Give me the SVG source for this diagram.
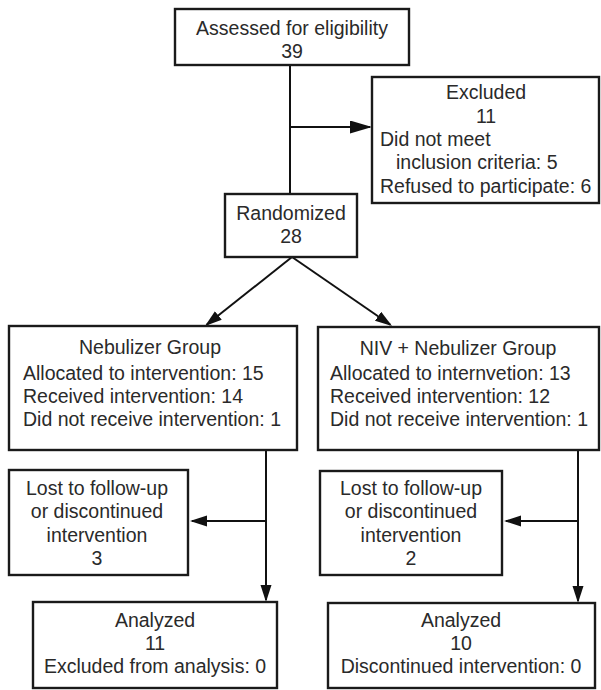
<svg xmlns="http://www.w3.org/2000/svg" width="601" height="690" viewBox="0 0 601 690">
<defs>
<style>
.box{fill:#fff;stroke:#1a1a1a;stroke-width:2.4}
.ln{fill:none;stroke:#111;stroke-width:2}
text{font-family:"Liberation Sans",Arial,sans-serif;font-size:19.5px;fill:#2a2a2a}
.c{text-anchor:middle}
</style>
<marker id="ah" markerUnits="userSpaceOnUse" markerWidth="18" markerHeight="12" refX="15" refY="5.5" orient="auto">
<path d="M0,0 L17,5.5 L0,11 z" fill="#111"/>
</marker>
<marker id="ahb" markerUnits="userSpaceOnUse" markerWidth="24" markerHeight="14" refX="20" refY="6.5" orient="auto">
<path d="M0,0 L22,6.5 L0,13 z" fill="#111"/>
</marker>
</defs>
<rect width="601" height="690" fill="#fff"/>
<g id="connectors">
<line class="ln" x1="290" y1="65" x2="290" y2="194"/>
<line class="ln" x1="290" y1="127" x2="370" y2="127" marker-end="url(#ahb)"/>
<line class="ln" x1="292" y1="257" x2="206.6" y2="324.8" marker-end="url(#ah)"/>
<line class="ln" x1="292" y1="257" x2="390.4" y2="324.8" marker-end="url(#ah)"/>
<line class="ln" x1="266" y1="450" x2="266" y2="600" marker-end="url(#ah)"/>
<line class="ln" x1="266" y1="521" x2="192" y2="521" marker-end="url(#ah)"/>
<line class="ln" x1="578" y1="450" x2="578" y2="601" marker-end="url(#ah)"/>
<line class="ln" x1="578" y1="521" x2="506" y2="521" marker-end="url(#ah)"/>
</g>
<g id="assessed">
<rect class="box" x="175" y="9" width="234" height="56"/>
<text class="c" x="292" y="35">Assessed for eligibility</text>
<text class="c" x="292" y="58">39</text>
</g>
<g id="excluded">
<rect class="box" x="372" y="77" width="227" height="126"/>
<text class="c" x="486" y="99">Excluded</text>
<text class="c" x="486" y="123">11</text>
<text x="380" y="146">Did not meet</text>
<text x="396" y="169">inclusion criteria: 5</text>
<text x="380" y="193">Refused to participate: 6</text>
</g>
<g id="randomized">
<rect class="box" x="225" y="194" width="132" height="63"/>
<text class="c" x="291" y="220">Randomized</text>
<text class="c" x="291" y="243">28</text>
</g>
<g id="nebulizer">
<rect class="box" x="9" y="326" width="288" height="124"/>
<text class="c" x="150" y="354">Nebulizer Group</text>
<text x="23" y="380">Allocated to intervention: 15</text>
<text x="23" y="403">Received intervention: 14</text>
<text x="23" y="426">Did not receive intervention: 1</text>
</g>
<g id="niv">
<rect class="box" x="318" y="327" width="281" height="123"/>
<text class="c" x="458" y="355">NIV + Nebulizer Group</text>
<text x="330" y="380">Allocated to internvetion: 13</text>
<text x="330" y="403">Received intervention: 12</text>
<text x="330" y="426">Did not receive intervention: 1</text>
</g>
<g id="lost-left">
<rect class="box" x="9" y="470" width="179" height="105"/>
<text class="c" x="97" y="495">Lost to follow-up</text>
<text class="c" x="97" y="518">or discontinued</text>
<text class="c" x="97" y="542">intervention</text>
<text class="c" x="97" y="565">3</text>
</g>
<g id="lost-right">
<rect class="box" x="320" y="471" width="182" height="104"/>
<text class="c" x="411" y="495">Lost to follow-up</text>
<text class="c" x="411" y="518">or discontinued</text>
<text class="c" x="411" y="542">intervention</text>
<text class="c" x="411" y="565">2</text>
</g>
<g id="analyzed-left">
<rect class="box" x="33" y="602" width="244" height="86"/>
<text class="c" x="155" y="627">Analyzed</text>
<text class="c" x="155" y="650">11</text>
<text class="c" x="155" y="673">Excluded from analysis: 0</text>
</g>
<g id="analyzed-right">
<rect class="box" x="328" y="603" width="267" height="85"/>
<text class="c" x="461" y="627">Analyzed</text>
<text class="c" x="461" y="650">10</text>
<text class="c" x="461" y="673">Discontinued intervention: 0</text>
</g>
</svg>
